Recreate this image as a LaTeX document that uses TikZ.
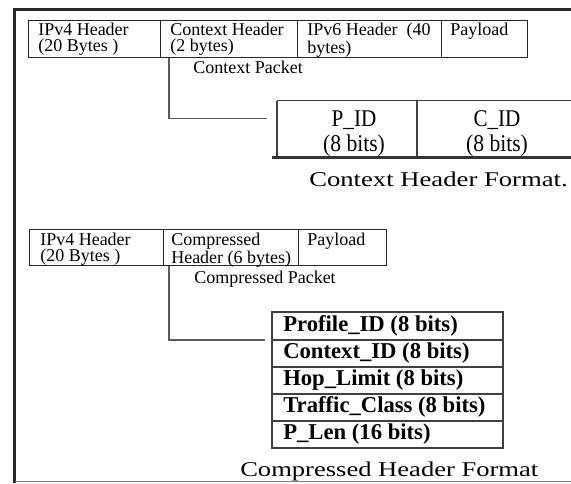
\documentclass[tikz,border=0pt]{standalone}
\usepackage{fontspec}
\setmainfont{Liberation Serif}
\usepackage{graphicx}
\usetikzlibrary{calc}
\begin{document}
\begin{tikzpicture}[x=0.75pt,y=-0.75pt,
  cell/.style={draw=black!85, line width=0.75pt, inner sep=0pt, anchor=north west},
  celltext/.style={inner sep=0pt, anchor=north west, align=left, font=\fontsize{13.5}{12}\selectfont},
  caption/.style={inner sep=0pt, anchor=base west, font=\fontsize{13.5}{16}\selectfont},
  border/.style={draw=black!85, line width=2.2pt},
  wire/.style={draw=black!65, line width=1pt},
  grid/.style={draw=black!75, line width=1.1pt},
  fieldtext/.style={inner sep=0pt, anchor=base, font=\fontsize{18}{20}\selectfont},
  rowtext/.style={inner sep=0pt, anchor=base west, font=\fontsize{17}{20}\selectfont\bfseries},
  formattitle/.style={inner sep=0pt, anchor=base west, font=\fontsize{15.75}{18}\selectfont}
]
\useasboundingbox (0,0) rectangle (571,483);

% page frame
\draw[border] (14.5,483) -- (14.5,9.5) -- (571,9.5);
\draw[draw=black!50, line width=1pt] (14.5,481.7) -- (571,481.7);

% ---- context packet ----
\node[cell, minimum width=98.625pt, minimum height=27.75pt] (a1) at (28,19.5) {};
\node[cell, minimum width=103.125pt, minimum height=27.75pt] (a2) at (159.5,19.5) {};
\node[cell, minimum width=108pt, minimum height=27.75pt] (a3) at (297,19.5) {};
\node[cell, minimum width=64.5pt, minimum height=27.75pt] (a4) at (441,19.5) {};
\node[celltext] (a1t) at (38,23) {IPv4 Header\\(20 Bytes )};
\node[celltext] (a2t) at (170,23) {Context Header\\(2 bytes)};
\node[celltext] (a3t) at (307,23) {IPv6 Header~~(40\\bytes)};
\node[celltext] (a4t) at (450,23) {Payload};
\node[caption] (cpk) at (193,73) {Context Packet};

% context header fields
\draw[grid] (277,100.5) -- (571,100.5);
\draw[grid] (277,100.5) -- (277,157.5);
\draw[grid] (417,100.5) -- (417,157.5);
\draw[draw=black!80, line width=1.6pt] (272,157.5) -- (571,157.5);
\node[fieldtext] (pid) at (354,126.7) {\scalebox{0.88}[1]{P\_ID}};
\node[fieldtext] (pbits) at (354,151.7) {\scalebox{0.9}[1]{(8 bits)}};
\node[fieldtext] (cid) at (497,126.7) {\scalebox{0.88}[1]{C\_ID}};
\node[fieldtext] (cbits) at (497,151.7) {\scalebox{0.9}[1]{(8 bits)}};
\node[formattitle] (cfmt) at (309,186.7) {\scalebox{1.27}[1]{Context Header Format.}};

% link from the context header to its fields
\coordinate (k1) at (169,118.3);
\coordinate (k1e) at (267,118.3);
\draw[wire] (a2.south -| k1) -- (k1) -- (k1e);

% ---- compressed packet ----
\node[cell, minimum width=100.5pt, minimum height=27pt] (b1) at (29,229) {};
\node[cell, minimum width=101.25pt, minimum height=27pt] (b2) at (163,229) {};
\node[cell, minimum width=66pt, minimum height=27pt] (b3) at (298,229) {};
\node[celltext] (b1t) at (40,233) {IPv4 Header\\(20 Bytes )};
\node[celltext] (b2t) at (171,233) {Compressed\\Header (6 bytes)};
\node[celltext] (b3t) at (307,233) {Payload};
\node[caption] (cmp) at (194,283) {Compressed Packet};

% compressed header fields
\draw[grid] (272,312) rectangle (503,448);
\foreach \yy in {340,367,394,421} \draw[grid] (272,\yy) -- (503,\yy);
\node[rowtext] (r1) at (283,331.7) {Profile\_ID (8 bits)};
\node[rowtext] (r2) at (283,358.7) {Context\_ID (8 bits)};
\node[rowtext] (r3) at (283,385.7) {Hop\_Limit (8 bits)};
\node[rowtext] (r4) at (283,412.7) {Traffic\_Class (8 bits)};
\node[rowtext] (r5) at (283,439.7) {P\_Len (16 bits)};
\node[formattitle] (hfmt) at (240,476.7) {\scalebox{1.265}[1]{Compressed Header Format}};

% link from the compressed header to its fields
\coordinate (k2) at (169,340);
\coordinate (k2e) at (265,340);
\draw[wire] (b2.south -| k2) -- (k2) -- (k2e);
\end{tikzpicture}
\end{document}
